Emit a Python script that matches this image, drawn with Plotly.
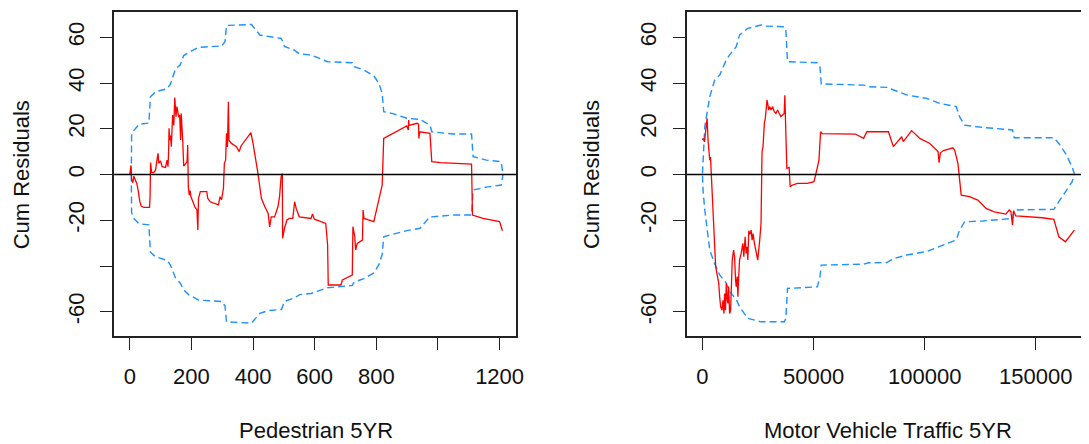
import plotly.graph_objects as go

# ---------------- Left panel: Pedestrian 5YR ----------------
ped_x = [0, 4, 6, 10, 13, 17, 23, 28, 32, 37, 46, 64, 66, 67.5, 71, 78, 84, 89, 92, 94,
         100, 105, 116, 121, 124, 126, 127.5, 130, 132, 135, 139, 143, 146, 150, 153, 159,
         162, 165, 167, 172, 175, 186, 188, 190, 193, 196, 198, 212, 218, 221, 223, 229,
         250, 253, 261, 288, 293, 298, 304, 307, 311, 314, 317, 320, 322, 330, 346, 355,
         361, 393, 400, 416, 427, 438, 449, 454, 459, 470, 481, 486, 491, 495, 496, 502,
         510, 518, 529, 535, 540, 550, 588, 593, 599, 636, 642, 644, 685, 690, 722, 724,
         730, 733, 738, 755, 757, 760, 792, 803, 819, 824, 867, 899, 904, 905, 906, 932,
         937, 938, 941, 974, 980, 1008, 1109, 1112, 1146, 1200, 1209]
ped_res = [0, 4, -2, -3.6, -0.7, -2.1, -4, -7.5, -11.4, -13.8, -14.4, -14.4, -9.7, 5.2, 0.8,
           0.8, 2, 7.1, 9.3, 4.9, 6, 3.4, 3.1, 6.3, 3.4, 9.3, 20.2, 15, 17, 12.2, 26, 21.5,
           33.7, 25.3, 29.7, 25, 26, 15.1, 26.7, 14.4, 3.7, 5.6, 12.9, -5.3, -9, -7, -9.5,
           -14.4, -15.5, -24.3, -10.4, -7.5, -7.5, -10.4, -11.9, -13.3, -9.7, -11, -6, 4.9,
           6.3, 18, 12, 31.8, 15, 13.6, 12.2, 10, 12.5, 18.3, 13.6, 0.5, -10.4, -14, -17,
           -22.9, -18.5, -18.5, -14, -9.7, -1, 0.5, -27.9, -23.5, -19.9, -19.2, -19.2, -11.9,
           -14.8, -18.5, -19.2, -17.3, -19.5, -21.4, -30.8, -48.3, -48.3, -46.1, -44, -22.8,
           -27.2, -33, -30.1, -28.7, -15.5, -19.2, -20.6, -14, -4.6, 15.8, 18.7, 21.2, 19.5,
           23.8, 21.5, 22.4, 22, 15.8, 18.7, 18, 5.6, 5.2, 4.6, -17.7, -19.2, -20.6, -24.6]

ped_band_x = [5, 6, 12, 30, 62, 67, 84, 121, 132, 148, 164, 175, 191, 223, 298, 309, 314,
              395, 422, 449, 492, 502, 534, 551, 588, 642, 722, 728, 760, 792, 808, 819, 824,
              857, 899, 942, 974, 980, 1050, 1109, 1114, 1157, 1205, 1211]
ped_upper = [0, 17, 19, 22, 22.5, 34, 36.2, 37.5, 39.5, 46, 48, 52, 53.3, 55.6, 56.2, 58.1,
             65.2, 65.6, 61, 60.3, 59.5, 56, 54.4, 52.7, 52.3, 49.3, 48.9, 47.2, 45.7, 43.1,
             40, 35.5, 27.5, 26.5, 24.6, 24.1, 21.6, 18.7, 17.7, 17.7, 7.8, 6.3, 5.6, 0]
ped_lower = [0, -16.5, -19, -21.5, -22, -34, -36, -37.5, -39.6, -45, -47.5, -50.5, -52.5,
             -54.9, -55.5, -57.5, -64.4, -65, -60.7, -59.5, -59, -55.5, -54, -52.5, -52,
             -49.5, -48.5, -47, -45.5, -43, -39.5, -35, -27.2, -26, -24.5, -23.5, -18.4,
             -18.5, -17.7, -17.7, -6.8, -5.5, -4.6, 0]

# ---------------- Right panel: Motor Vehicle Traffic 5YR ----------------
mv_x = [0, 400, 900, 1326, 2070, 2500, 2815, 3262, 3600, 4008, 4306, 4753, 5199, 5500, 5943,
        6539, 6986, 7300, 7731, 8178, 8773, 9200, 9667, 9960, 10350, 10710, 11150, 11450,
        11750, 12200, 12647, 12950, 13390, 13986, 14430, 14880, 15180, 15620, 15920, 16220,
        16670, 17404, 18150, 18600, 19199, 19640, 20090, 20390, 20838, 21430, 21879, 22330,
        22780, 23370, 23820, 24270, 24857, 25310, 25750, 26349, 26796, 27240, 27540, 27840,
        28290, 28732, 29030, 29330, 29780, 30230, 30820, 31570, 32310, 33060, 33800, 34550,
        35300, 36775, 37073, 37520, 37967, 39000, 39456, 40500, 42732, 47200, 50180, 50925,
        52414, 53159, 53900, 68789, 72520, 74009, 83691, 85925, 88159, 89648, 90393, 94117,
        97840, 102309, 106032, 106479, 107075, 108500, 112740, 113500, 114969, 115713,
        116458, 120181, 123905, 126139, 127628, 131352, 136565, 138054, 138800, 139544,
        140000, 141032, 152948, 158162, 160396, 163375, 167397]
mv_res = [15.1, 15.8, 14.3, 18, 24.6, 15, 12.1, 6.3, 7.7, -2.4, -8.2, -17, -30.1, -31.6,
          -40.4, -43.2, -46.1, -47.5, -53.5, -57.9, -59.3, -55, -60.8, -52, -59.3, -47.6,
          -54.8, -56.3, -49, -60.8, -59.3, -49, -37.4, -33, -35.9, -46.1, -49, -44.6, -53.4,
          -46.1, -37.4, -34.5, -30.1, -35.9, -27.2, -34.5, -31.6, -37.4, -24.6, -26.1, -24.3,
          -28.7, -25.8, -30.1, -33, -34.5, -37.4, -33.7, -28.7, -21.4, 10, 12.2, 19.5, 22.4,
          24.6, 30.4, 32.6, 31.1, 28.2, 29.7, 28.2, 29.7, 27.5, 26.7, 28.2, 26.7, 25.3, 26.7,
          34.7, 18, 2.7, 3.1, -5.3, -4.6, -3.9, -3.9, -3.1, -0.2, 6.3, 18.7, 17.9, 17.7, 15.8,
          18.7, 18.7, 12.2, 15.1, 16.5, 14.4, 19.2, 15.8, 13.6, 10, 5.2, 9.5, 10.5, 11.7, 10.7,
          4.9, -3.9, -9, -9.7, -11.2, -13.3, -14.8, -16.3, -17.3, -15.5, -16.2, -22.1, -15.8,
          -18.1, -18.9, -19.6, -27.2, -29.4, -24.3]

mv_band_x = [0, 283, 1028, 3262, 5496, 7731, 10710, 12200, 15178, 16667, 20391, 26349, 28583,
             36775, 37520, 38264, 51669, 52860, 53456, 72520, 74754, 82946, 85925, 91882,
             100819, 106777, 114224, 115713, 117947, 126139, 139544, 140289, 158162, 160396,
             163375, 166354, 167397]
mv_upper = [0.5, 7.8, 20.9, 34, 41.3, 43.5, 50.1, 52.3, 55.9, 61, 63.9, 65.4, 64.9, 64.6,
            63.2, 49.3, 48.9, 47.2, 39.6, 39.1, 38.4, 38.1, 37, 34.8, 33.3, 31.1, 29.7, 25.3,
            21.6, 20.6, 19.5, 16.1, 16.1, 13.6, 9.3, 3.4, 0.2]
mv_lower = [-0.5, -7.3, -15.5, -33, -39, -43.9, -47.5, -51.2, -54.5, -57.8, -62.9, -64.4,
            -64.4, -64.4, -63, -49.8, -49.1, -44.8, -39.6, -39.2, -38.6, -38.5, -36.8, -35.2,
            -33.7, -31.5, -28.6, -24.3, -20.7, -20.3, -19.2, -15.5, -15.2, -11.9, -7.5, -3.2,
            0.2]

# ---------------- Axes ticks ----------------
ped_ticks = [0, 200, 400, 600, 800, 1000, 1200]
ped_ticktext = ["0", "200", "400", "600", "800", "", "1200"]
mv_ticks = [0, 50000, 100000, 150000]
mv_ticktext = ["0", "50000", "100000", "150000"]
y_ticks = [-60, -40, -20, 0, 20, 40, 60]
y_ticktext = ["-60", "", "-20", "0", "20", "40", "60"]

W, H = 1089, 444
FONT = "Liberation Sans, Arial, sans-serif"
FS = 22
RED = "#FF0000"
BLUE = "#1E90FF"
DASH = "7px,4px"

fig = go.Figure()

# left panel
fig.add_trace(go.Scatter(x=ped_band_x, y=ped_upper, mode="lines", xaxis="x", yaxis="y",
                         line=dict(color=BLUE, width=1.4, dash=DASH)))
fig.add_trace(go.Scatter(x=ped_band_x, y=ped_lower, mode="lines", xaxis="x", yaxis="y",
                         line=dict(color=BLUE, width=1.4, dash=DASH)))
fig.add_trace(go.Scatter(x=ped_x, y=ped_res, mode="lines", xaxis="x", yaxis="y",
                         line=dict(color=RED, width=1.3)))
# right panel
fig.add_trace(go.Scatter(x=mv_band_x, y=mv_upper, mode="lines", xaxis="x2", yaxis="y2",
                         line=dict(color=BLUE, width=1.4, dash=DASH)))
fig.add_trace(go.Scatter(x=mv_band_x, y=mv_lower, mode="lines", xaxis="x2", yaxis="y2",
                         line=dict(color=BLUE, width=1.4, dash=DASH)))
fig.add_trace(go.Scatter(x=mv_x, y=mv_res, mode="lines", xaxis="x2", yaxis="y2",
                         line=dict(color=RED, width=1.3)))

ydom = [1 - 336 / H, 1 - 12 / H]
common_axis = dict(showgrid=False, zeroline=False, ticks="outside", ticklen=12,
                   tickwidth=1.3, tickcolor="#222", linecolor="#222", linewidth=1.5,
                   showline=True, tickfont=dict(family=FONT, size=FS, color="#111"))

fig.update_layout(
    width=W, height=H, autosize=False, margin=dict(l=0, r=0, t=0, b=0, pad=0),
    paper_bgcolor="white", plot_bgcolor="white", showlegend=False,
    xaxis=dict(domain=[115 / W, 520 / W], range=[-50.6, 1253.8], tickmode="array",
               tickvals=ped_ticks, ticktext=ped_ticktext, mirror=True, anchor="y",
               ticklabelstandoff=8, **common_axis),
    yaxis=dict(domain=ydom, range=[-70.6, 71.06], tickmode="array", tickvals=y_ticks,
               ticktext=y_ticktext, tickangle=-90, mirror=True, anchor="x",
               ticklabelstandoff=8, **common_axis),
    xaxis2=dict(domain=[692 / W, 1.0], range=[-7015, 170375], tickmode="array",
                tickvals=mv_ticks, ticktext=mv_ticktext, mirror=True, anchor="y2",
                ticklabelstandoff=8, **common_axis),
    yaxis2=dict(domain=ydom, range=[-70.6, 71.06], tickmode="array", tickvals=y_ticks,
                ticktext=y_ticktext, tickangle=-90, mirror=False, anchor="x2",
                ticklabelstandoff=8, **common_axis),
)

# horizontal zero reference lines
for xr, yr in (("x domain", "y"), ("x2 domain", "y2")):
    fig.add_shape(type="line", xref=xr, yref=yr, x0=0, x1=1, y0=0, y1=0,
                  line=dict(color="black", width=1.5))

# axis titles
ann_font = dict(family=FONT, size=FS, color="#111")
fig.add_annotation(text="Cum Residuals", xref="paper", yref="paper", x=22 / W,
                   y=1 - 174.5 / H, textangle=-90, showarrow=False, font=ann_font,
                   xanchor="center", yanchor="middle")
fig.add_annotation(text="Cum Residuals", xref="paper", yref="paper", x=596 / W,
                   y=1 - 174.5 / H, textangle=-90, showarrow=False, font=ann_font,
                   xanchor="center", yanchor="middle")
fig.add_annotation(text="Pedestrian 5YR", xref="paper", yref="paper", x=318.5 / W,
                   y=0, showarrow=False, font=ann_font, borderpad=0,
                   xanchor="center", yanchor="bottom")
fig.add_annotation(text="Motor Vehicle Traffic 5YR", xref="paper", yref="paper",
                   x=895 / W, y=0, showarrow=False, font=ann_font, borderpad=0,
                   xanchor="center", yanchor="bottom")

fig.write_html(
    "out.html",
    config={"responsive": False, "displayModeBar": False},
    post_script="document.body.style.margin='0';document.body.style.overflow='hidden';",
)
